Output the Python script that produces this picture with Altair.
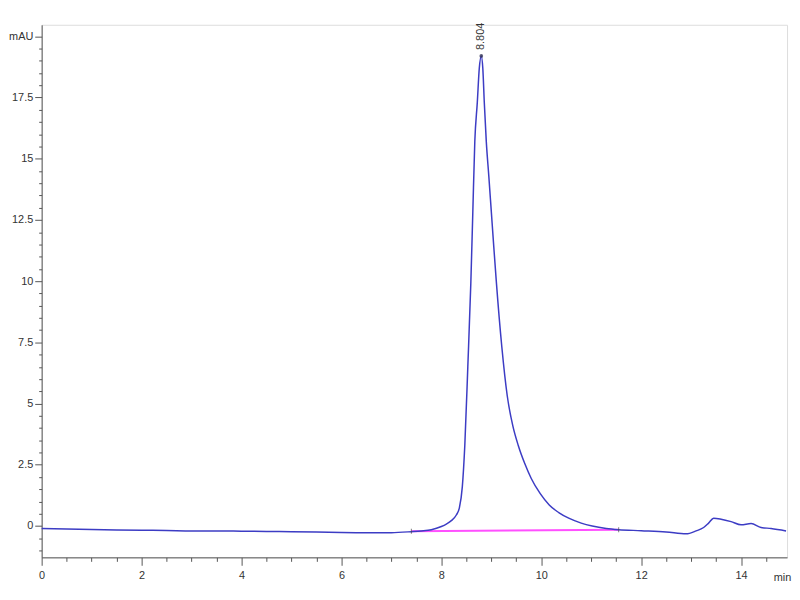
import altair as alt
import pandas as pd

# Chromatogram trace (time in min, signal in mAU)
times = [0.0, 0.5, 1.0, 1.5, 2.0, 2.5, 3.0, 3.5, 4.0, 4.5, 5.0, 5.5, 6.0, 6.5, 7.0,
         7.4, 7.6, 7.8, 8.0, 8.1, 8.2, 8.3, 8.36, 8.42, 8.47, 8.53, 8.59, 8.63, 8.67,
         8.72, 8.76, 8.80, 8.83, 8.86, 8.90, 8.95, 9.00, 9.05, 9.10, 9.21, 9.32, 9.43,
         9.54, 9.67, 9.80, 9.98, 10.16, 10.35, 10.55, 10.8, 11.02, 11.3, 11.55, 12.0,
         12.5, 12.9, 13.1, 13.25, 13.35, 13.45, 13.6, 13.8, 14.0, 14.2, 14.4, 14.6, 14.9]
signal = [-0.10, -0.12, -0.14, -0.16, -0.17, -0.18, -0.20, -0.20, -0.21, -0.22, -0.23,
          -0.24, -0.26, -0.27, -0.27, -0.23, -0.20, -0.15, -0.02, 0.08, 0.22, 0.45,
          0.73, 1.6, 3.3, 6.5, 9.9, 12.8, 15.7, 17.3, 18.7, 19.2, 18.7, 17.3, 15.7,
          14.3, 12.85, 11.4, 10.0, 7.33, 5.31, 4.1, 3.29, 2.55, 1.94, 1.32, 0.86, 0.55,
          0.32, 0.12, 0.0, -0.10, -0.15, -0.19, -0.24, -0.32, -0.2, -0.06, 0.12, 0.32,
          0.28, 0.18, 0.05, 0.1, -0.06, -0.1, -0.2]

# Integration baseline
base_t = [7.40, 11.55]
base_v = [-0.21, -0.15]

# Peak annotation
peak_t = [8.80]
peak_v = [19.2]
peak_label = ["8.804"]

x_ticks = [i * 0.5 for i in range(0, 30)]
y_ticks = [i * 0.5 for i in range(-2, 41)]

trace = pd.DataFrame({"t": times, "v": signal})
base = pd.DataFrame({"t": base_t, "v": base_v})
peak = pd.DataFrame({"t": peak_t, "v": peak_v, "label": peak_label})

FONT = "Liberation Sans"

xs = alt.Scale(domain=[0, 14.92], nice=False, zero=False)
ys = alt.Scale(domain=[-1.28, 20.47], nice=False, zero=False)

x_axis = alt.Axis(
    values=x_ticks, tickCount=500, grid=False, domainColor="#555555", tickColor="#555555",
    tickSize={"condition": {"test": "datum.value % 2 == 0", "value": 8}, "value": 4},
    labelExpr="datum.value % 2 == 0 ? format(datum.value, '~g') : ''",
    labelFont=FONT, labelFontSize=11, labelColor="#333333", labelPadding=4,
    title="min", titleFont=FONT, titleFontSize=11, titleFontWeight="normal",
    titleColor="#333333", titleX=739, titleY=20, titleAlign="left",
    titleBaseline="middle", labelFlush=False, labelOverlap=False,
)
y_axis = alt.Axis(
    values=y_ticks, tickCount=500, grid=False, domainColor="#555555", tickColor="#555555",
    tickSize={"condition": {"test": "datum.value % 2.5 == 0", "value": 7}, "value": 3},
    labelExpr="datum.value == 20 ? 'mAU' : (datum.value >= 0 && datum.value % 2.5 == 0 ? format(datum.value, '~g') : '')",
    labelFont=FONT, labelFontSize=11, labelColor="#333333", labelPadding=2,
    title=None, labelOverlap=False, labelFlush=False,
)

line = alt.Chart(trace).mark_line(color="#3c3cc4", strokeWidth=1.5, interpolate="monotone").encode(
    x=alt.X("t:Q", scale=xs, axis=x_axis),
    y=alt.Y("v:Q", scale=ys, axis=y_axis),
)

baseline = alt.Chart(base).mark_line(color="#ff50ff", strokeWidth=2).encode(
    x=alt.X("t:Q", scale=xs), y=alt.Y("v:Q", scale=ys)
)

base_ticks = alt.Chart(base).mark_tick(color="#444444", orient="vertical", size=5, thickness=1).encode(
    x=alt.X("t:Q", scale=xs), y=alt.Y("v:Q", scale=ys)
)

apex = alt.Chart(peak).mark_point(filled=True, color="#333355", size=14, opacity=0.8).encode(
    x=alt.X("t:Q", scale=xs), y=alt.Y("v:Q", scale=ys)
)

label = alt.Chart(peak).mark_text(angle=270, align="left", baseline="middle", dx=6,
                                  font=FONT, fontSize=11, color="#333333").encode(
    x=alt.X("t:Q", scale=xs), y=alt.Y("v:Q", scale=ys), text="label:N"
)

chart = alt.layer(baseline, line, base_ticks, apex, label).properties(
    width=753, height=538,
    padding={"left": 34, "top": 14, "right": 5, "bottom": 30},
    autosize=alt.AutoSizeParams(type="none"),
).configure_view(stroke=None).configure(background="white")

chart.save("out.html", embed_options={"renderer": "svg", "actions": False})
